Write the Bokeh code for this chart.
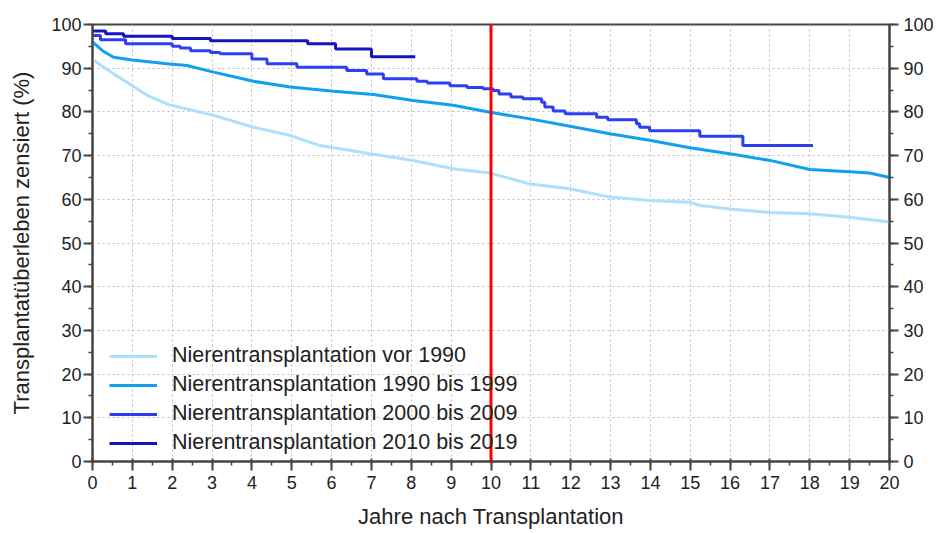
from bokeh.plotting import figure
from bokeh.models import (Range1d, LinearAxis, SingleIntervalTicker, Legend, LegendItem, Arrow)
from bokeh.embed import file_html
from bokeh.resources import INLINE

# ---- data ----
vor1990_t = [0, 0.53, 1, 1.37, 1.9, 3.04, 4.04, 4.96, 5.71, 7.05, 8.05, 9.05, 9.97,
             10.98, 11.98, 12.98, 13.98, 14.99, 15.24, 16, 17, 18, 19, 20]
vor1990_v = [92.0, 88.7, 86.0, 83.8, 81.7, 79.2, 76.5, 74.6, 72.3, 70.3, 68.9, 67.0, 66.0,
             63.5, 62.4, 60.5, 59.7, 59.3, 58.6, 57.8, 57.0, 56.7, 55.9, 54.8]

t1990_t = [0, 0.25, 0.53, 1, 1.87, 2.37, 3.04, 4.04, 4.96, 6.05, 7.05, 8.05, 9.05, 9.97,
           10.98, 11.98, 12.98, 13.98, 14.99, 15.99, 17, 18, 19, 19.5, 20]
t1990_v = [96.0, 94.0, 92.5, 91.9, 91.0, 90.6, 89.1, 87.0, 85.7, 84.7, 84.0, 82.6, 81.5, 79.9,
           78.4, 76.7, 75.0, 73.5, 71.8, 70.4, 68.9, 66.8, 66.3, 66.0, 65.0]

t2000_t = [0, 0.2, 0.83, 2.0, 2.2, 2.46, 2.96, 3.2, 4.0, 4.38, 5.13, 6.38, 6.88, 7.3, 8.14,
           8.4, 8.97, 9.4, 9.8, 10.05, 10.2, 10.5, 10.8, 11.27, 11.35, 11.56, 11.86, 12.65,
           12.93, 13.65, 13.73, 13.98, 15.24, 16.32, 18.08]
t2000_v = [97.5, 96.5, 95.6, 95.0, 94.6, 94.0, 93.6, 93.3, 92.1, 91.0, 90.2, 89.5, 88.7, 87.6,
           87.0, 86.6, 86.0, 85.6, 85.3, 84.9, 84.1, 83.4, 83.0, 82.2, 81.1, 80.2, 79.6, 78.8,
           78.2, 77.3, 76.5, 75.7, 74.4, 72.3, 72.3]

t2010_t = [0, 0.33, 0.78, 2.0, 2.96, 5.4, 6.1, 7.0, 8.1]
t2010_v = [98.5, 97.9, 97.3, 96.8, 96.3, 95.6, 94.4, 92.6, 92.6]

labels = ["Nierentransplantation vor 1990",
          "Nierentransplantation 1990 bis 1999",
          "Nierentransplantation 2000 bis 2009",
          "Nierentransplantation 2010 bis 2019"]
colors = ["#aee0fb", "#129ff0", "#2d3ff2", "#1515c0"]

marker_year = 10
x_lo, x_hi = 0, 20
y_lo, y_hi = 0, 100

FONT = "Liberation Sans"

p = figure(width=936, height=533, output_backend="svg", toolbar_location=None,
           x_range=Range1d(x_lo, x_hi), y_range=Range1d(y_lo, y_hi),
           min_border_left=92, min_border_right=46, min_border_top=24, min_border_bottom=72)
p.background_fill_color = "white"
p.border_fill_color = "white"
p.outline_line_color = "#444444"
p.outline_line_width = 2

r1 = p.line(vor1990_t, vor1990_v, line_color=colors[0], line_width=3)
r2 = p.line(t1990_t, t1990_v, line_color=colors[1], line_width=3)
r3 = p.step(t2000_t, t2000_v, mode="after", line_color=colors[2], line_width=3)
r4 = p.step(t2010_t, t2010_v, mode="after", line_color=colors[3], line_width=3)

# axes
xt = SingleIntervalTicker(interval=1, num_minor_ticks=2)
yt = SingleIntervalTicker(interval=10, num_minor_ticks=2)
p.xaxis.ticker = xt
p.yaxis.ticker = yt
p.add_layout(LinearAxis(ticker=yt), "right")

for ax in p.axis:
    ax.axis_line_color = "#444444"
    ax.axis_line_width = 2
    ax.major_tick_line_color = "#444444"
    ax.major_tick_line_width = 2
    ax.minor_tick_line_color = "#444444"
    ax.minor_tick_line_width = 1.5
    ax.major_tick_out = 9
    ax.major_tick_in = 0
    ax.minor_tick_out = 4
    ax.minor_tick_in = 0
    ax.major_label_text_font = FONT
    ax.major_label_text_font_size = "18px"
    ax.major_label_text_color = "#222222"
    ax.axis_label_text_font = FONT
    ax.axis_label_text_font_size = "22px"
    ax.axis_label_text_font_style = "normal"
    ax.axis_label_text_color = "#222222"

p.xaxis.major_tick_in = 3
p.xaxis.major_label_standoff = 5
p.xaxis.axis_label = "Jahre nach Transplantation"
p.xaxis.axis_label_standoff = 12
p.yaxis[0].axis_label = "Transplantatüberleben zensiert (%)"
p.yaxis[0].major_label_standoff = 2
p.yaxis[0].axis_label_standoff = 14
p.yaxis[1].major_label_standoff = 5

# grid
for g in (p.xgrid, p.ygrid):
    g.grid_line_color = "#bdbdbd"
    g.grid_line_dash = "2 3"
    g.grid_line_width = 1

legend = Legend(items=[LegendItem(label=labels[0], renderers=[r1]),
                       LegendItem(label=labels[1], renderers=[r2]),
                       LegendItem(label=labels[2], renderers=[r3]),
                       LegendItem(label=labels[3], renderers=[r4])],
                location=(17, 6), padding=5, margin=0, spacing=4,
                glyph_width=48, glyph_height=22, label_height=22, label_standoff=15,
                label_text_font=FONT, label_text_font_size="21.5px", label_text_color="#222222",
                border_line_color=None, background_fill_alpha=0.0)
p.add_layout(legend)

red = Arrow(end=None, x_start=marker_year, y_start=y_lo - 2.1, x_end=marker_year, y_end=y_hi + 2.7,
            line_color="#ff0000", line_width=3, level="overlay")
p.add_layout(red)

open("out.html", "w").write(file_html(p, INLINE))
